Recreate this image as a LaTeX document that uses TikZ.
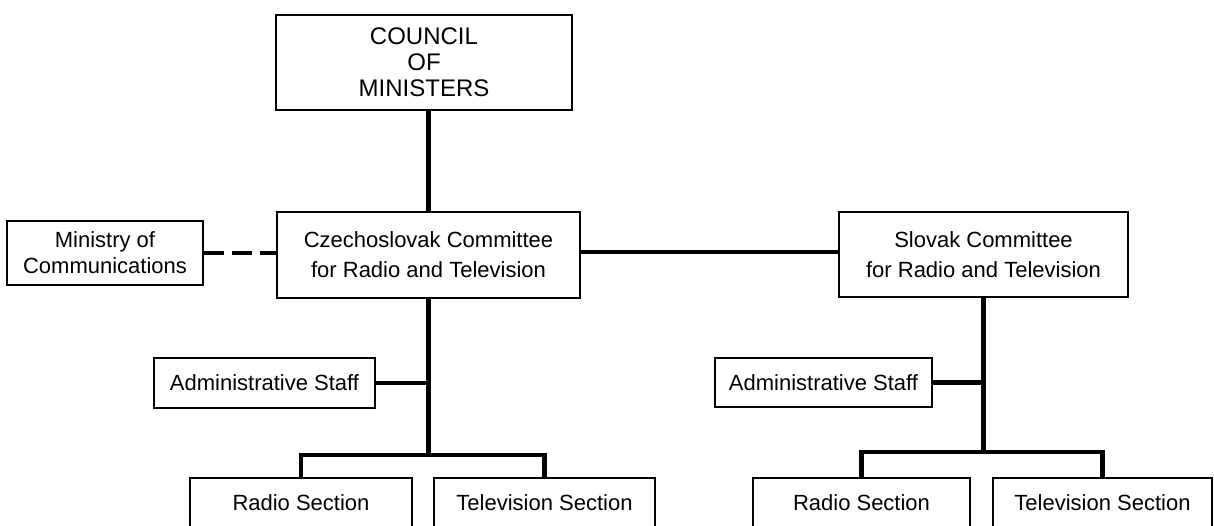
\documentclass[tikz,border=0pt]{standalone}
\usepackage{fontspec}
\setmainfont{Liberation Sans}
\begin{document}
\begin{tikzpicture}[x=0.5pt, y=0.5pt]
                \tikzset{ block/.style={rectangle,draw,line width=1pt,align=center,inner sep=2pt,font=\fontsize{11}{13}\selectfont},
                        link/.style={line width=2.2pt}}
                \useasboundingbox (0,0) rectangle (1214,525);
                \node[block, minimum width=148pt, minimum height=47.5pt, font=\fontsize{12}{13}\selectfont] (council) at (424,462.5) {COUNCIL\\OF\\MINISTERS};
                \node[block, minimum width=151.5pt, minimum height=43pt, font=\fontsize{11}{15}\selectfont] (czech) at (428.5,270) {Czechoslovak Committee\\for Radio and Television};
                \node[block, minimum width=98pt, minimum height=32pt] (ministry) at (105,272) {Ministry of\\Communications};
                \node[block, minimum width=144.5pt, minimum height=42.5pt, font=\fontsize{11}{15}\selectfont] (slovak) at (983.5,270.5) {Slovak Committee\\for Radio and Television};

                % Czechoslovak branch
                \node[block, minimum width=110.5pt, minimum height=25pt] (adminL) at (264.5,142) {Administrative Staff};
                \node[block, minimum width=111pt, minimum height=25pt] (radioL) at (301,22) {Radio Section};
                \node[block, minimum width=110.5pt, minimum height=25pt] (tvL) at (544.5,22) {Television Section};

                % Slovak branch
                \node[block, minimum width=108.5pt, minimum height=24.5pt] (adminR) at (823.5,142.5) {Administrative Staff};
                \node[block, minimum width=108.5pt, minimum height=25pt] (radioR) at (861.5,22) {Radio Section};
                \node[block, minimum width=109.5pt, minimum height=25pt] (tvR) at (1102.5,22) {Television Section};

                % Lignes
                \draw[link] (czech.north) -- (czech.north |- council.south);
                \draw[link, dash pattern=on 10pt off 4pt] (ministry.east) -- (ministry.east -| czech.west);
                \draw[link] (czech.east |- 0,273) -- (slovak.west |- 0,273);

                \coordinate (jL) at (czech.south |- 0,70);
                \draw[link] (czech.south) -- (jL);
                \draw[link] (adminL.east) -- (adminL.east -| czech.south);
                \draw[link] (radioL.north) |- (jL) -| (tvL.north);

                \coordinate (jR) at (slovak.south |- 0,73);
                \draw[link] (slovak.south) -- (jR);
                \draw[link] (adminR.east) -- (adminR.east -| slovak.south);
                \draw[link] (radioR.north) |- (jR) -| (tvR.north);
            \end{tikzpicture}
\end{document}
